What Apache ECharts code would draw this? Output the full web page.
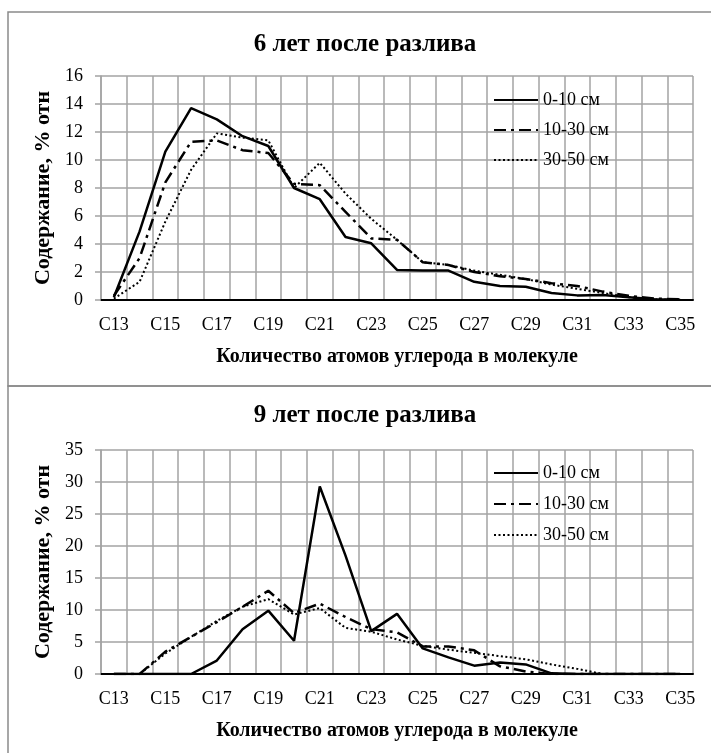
<!DOCTYPE html>
<html>
<head>
<meta charset="utf-8">
<script src="https://cdn.jsdelivr.net/npm/echarts@6/dist/echarts.min.js"></script>
<style>
  html, body { margin: 0; padding: 0; background: #fff; }
  #chart { width: 711px; height: 753px; }
</style>
</head>
<body>
<div id="chart"></div>
<script>
// Carbon number categories (n-alkanes C13..C35)
const categories = ['C13','C14','C15','C16','C17','C18','C19','C20','C21','C22','C23','C24',
                    'C25','C26','C27','C28','C29','C30','C31','C32','C33','C34','C35'];

// Depth layers
const seriesNames = ['0-10 см', '10-30 см', '30-50 см'];

// 6 years after the spill, % rel.
const yr6_0_10  = [0.2, 4.9, 10.6, 13.7, 12.9, 11.7, 11.0, 8.0, 7.2, 4.5, 4.05, 2.15, 2.1, 2.1, 1.3, 1.0, 0.95, 0.5, 0.33, 0.35, 0.2, 0.05, 0.02];
const yr6_10_30 = [0.3, 3.0, 8.4, 11.3, 11.4, 10.7, 10.5, 8.3, 8.2, 6.3, 4.4, 4.3, 2.7, 2.5, 2.0, 1.7, 1.5, 1.2, 1.0, 0.6, 0.3, 0.1, 0.05];
const yr6_30_50 = [0.1, 1.3, 5.6, 9.3, 11.9, 11.6, 11.4, 8.0, 9.8, 7.6, 5.8, 4.3, 2.7, 2.5, 2.1, 1.8, 1.5, 1.1, 0.8, 0.5, 0.2, 0.05, 0.0];

// 9 years after the spill, % rel.
const yr9_0_10  = [0, 0, 0, 0, 2.1, 7.0, 9.9, 5.2, 29.3, 18.5, 6.7, 9.4, 4.0, 2.6, 1.3, 1.8, 1.5, 0.1, 0, 0, 0, 0, 0];
const yr9_10_30 = [0, 0, 3.5, 5.8, 8.1, 10.5, 13.0, 9.5, 11.0, 8.9, 7.0, 6.5, 4.3, 4.3, 3.7, 1.2, 0.4, 0, 0, 0, 0, 0, 0];
const yr9_30_50 = [0, 0, 3.2, 5.8, 8.3, 10.5, 11.7, 9.3, 10.3, 7.2, 6.6, 5.4, 4.4, 3.8, 3.3, 2.8, 2.3, 1.5, 0.8, 0, 0, 0, 0];

// Y axis settings per panel
const yMax6 = 16, yStep6 = 2;
const yMax9 = 35, yStep9 = 5;

const titles = ['6 лет после разлива', '9 лет после разлива'];
const xName = 'Количество атомов углерода в молекуле';
const yName = 'Содержание, % отн';

const FONT = '"Liberation Serif", "DejaVu Serif", serif';
const GRID = '#a3a3a3';

const lineStyles = [
  { color: '#000', width: 2.5, type: 'solid' },
  { color: '#000', width: 2.5, type: [12, 5, 3, 5] },
  { color: '#000', width: 2, type: [2, 2.5] }
];

function xAxis(gridIndex) {
  return {
    type: 'category', gridIndex, data: categories, boundaryGap: true,
    axisLine: { lineStyle: { color: '#000', width: 2 } },
    axisTick: { show: false },
    axisLabel: { interval: 1, color: '#000', fontFamily: FONT, fontSize: 18, margin: 16 },
    splitLine: { show: true, interval: 0, lineStyle: { color: GRID, width: 1.5 } },
    name: xName, nameLocation: 'middle', nameGap: 47,
    nameTextStyle: { color: '#000', fontFamily: FONT, fontSize: 20, fontWeight: 'bold' }
  };
}
function yAxis(gridIndex, max, step) {
  return {
    type: 'value', gridIndex, min: 0, max, interval: step,
    axisLine: { show: true, lineStyle: { color: GRID, width: 1.5 } },
    axisTick: { show: true, length: 6, lineStyle: { color: GRID, width: 1.5 } },
    axisLabel: { color: '#000', fontFamily: FONT, fontSize: 18, margin: 18 },
    splitLine: { show: true, lineStyle: { color: GRID, width: 1.5 } },
    name: yName, nameLocation: 'middle', nameGap: 44, nameRotate: 90,
    nameTextStyle: { color: '#000', fontFamily: FONT, fontSize: 22, fontWeight: 'bold' }
  };
}
function lines(idx, arrays) {
  return arrays.map((d, i) => ({
    name: seriesNames[i], type: 'line', xAxisIndex: idx, yAxisIndex: idx,
    data: d, symbol: 'none', lineStyle: lineStyles[i], itemStyle: { color: '#000' },
    animation: false, z: 3 + (2 - i)
  }));
}
function legend(top, gap) {
  return {
    orient: 'vertical', left: 488, top, data: seriesNames,
    itemWidth: 44, itemHeight: 14, itemGap: gap,
    itemStyle: { opacity: 0 },
    textStyle: { color: '#000', fontFamily: FONT, fontSize: 18 },
    selectedMode: false
  };
}

const chart = echarts.init(document.getElementById('chart'), null, { renderer: 'canvas' });
chart.setOption({
  backgroundColor: '#fff',
  animation: false,
  title: [
    { text: titles[0], left: 360, top: 27, textAlign: 'center',
      textStyle: { fontFamily: FONT, fontSize: 25, fontWeight: 'bold', color: '#000' } },
    { text: titles[1], left: 360, top: 398, textAlign: 'center',
      textStyle: { fontFamily: FONT, fontSize: 25, fontWeight: 'bold', color: '#000' } }
  ],
  graphic: [
    { type: 'rect', shape: { x: 8, y: 12, width: 720, height: 374 },
      style: { fill: 'none', stroke: '#8a8a8a', lineWidth: 1.5 }, silent: true },
    { type: 'rect', shape: { x: 8, y: 386, width: 720, height: 400 },
      style: { fill: 'none', stroke: '#8a8a8a', lineWidth: 1.5 }, silent: true }
  ],
  legend: [legend(86, 12), legend(459, 13)],
  grid: [
    { left: 101, top: 76, width: 592, height: 224 },
    { left: 101, top: 450, width: 592, height: 224 }
  ],
  xAxis: [xAxis(0), xAxis(1)],
  yAxis: [yAxis(0, yMax6, yStep6), yAxis(1, yMax9, yStep9)],
  series: [
    ...lines(0, [yr6_0_10, yr6_10_30, yr6_30_50]),
    ...lines(1, [yr9_0_10, yr9_10_30, yr9_30_50])
  ]
});
</script>
</body>
</html>
